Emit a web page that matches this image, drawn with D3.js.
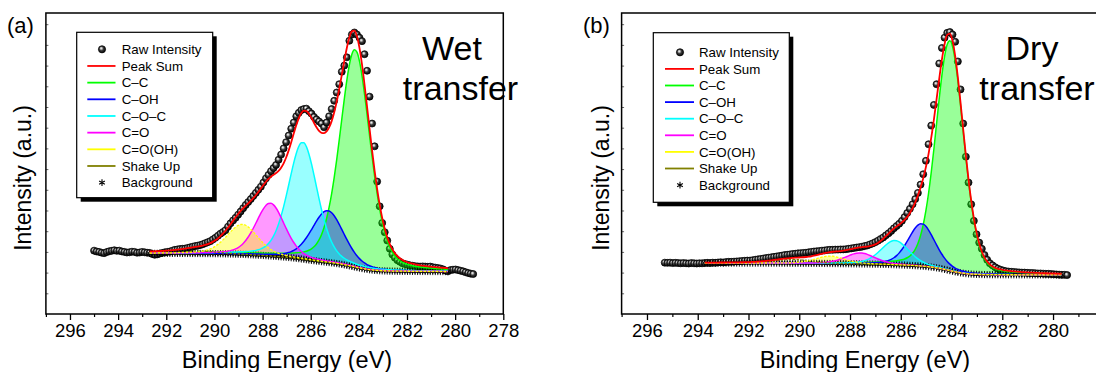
<!DOCTYPE html>
<html>
<head>
<meta charset="utf-8">
<script src="https://cdn.jsdelivr.net/npm/d3@7"></script>
<style>
  html, body { margin: 0; padding: 0; background: #fff; }
  svg { display: block; font-family: "Liberation Sans", Arial, sans-serif; }
</style>
</head>
<body>
<svg id="chart" width="1096" height="372"></svg>
<script>
// ---------- data ----------
// C 1s spectra: binding energy of the first point (eV) and the scan step
const rawStepEV = 0.105;
const rawStartA = 295.0;
const rawStartB = 295.3;

// raw intensity (a.u.), one value per step, high BE -> low BE
const rawIntensityA = [
  3.06,3.02,3.00,2.96,2.94,2.99,3.03,3.05,3.08,3.05,
  3.06,3.02,3.00,2.97,2.98,3.01,3.00,2.96,2.97,3.00,
  2.98,2.96,2.95,2.90,2.86,2.88,2.92,2.95,2.98,3.00,
  3.02,3.06,3.10,3.12,3.14,3.15,3.16,3.19,3.22,3.25,
  3.28,3.30,3.33,3.37,3.42,3.47,3.52,3.60,3.68,3.78,
  3.88,3.96,4.05,4.22,4.38,4.52,4.65,4.80,4.95,5.11,
  5.27,5.41,5.55,5.70,5.85,6.00,6.15,6.35,6.55,6.72,
  6.90,7.05,7.20,7.45,7.70,8.00,8.30,8.62,8.95,9.25,
  9.55,9.72,9.85,9.90,9.92,9.80,9.68,9.52,9.40,9.30,
  9.20,9.02,9.25,9.55,9.90,10.30,10.70,11.10,11.70,12.00,
  12.40,13.20,13.50,13.60,13.50,13.35,13.18,12.55,11.75,10.50,
  9.20,8.10,6.40,5.20,4.40,3.95,3.55,3.15,2.88,2.72,
  2.60,2.52,2.45,2.41,2.38,2.35,2.33,2.31,2.30,2.29,
  2.30,2.29,2.28,2.29,2.26,2.24,2.22,2.20,2.16,2.10,
  2.06,2.12,2.14,2.15,2.12,2.09,2.06,2.02,1.98,1.95,
  1.93
];
const rawIntensityB = [
  2.48,2.47,2.48,2.46,2.47,2.46,2.45,2.46,2.45,2.44,
  2.46,2.45,2.44,2.45,2.45,2.46,2.47,2.46,2.48,2.47,
  2.49,2.50,2.49,2.51,2.52,2.52,2.53,2.54,2.55,2.56,
  2.57,2.58,2.58,2.60,2.62,2.64,2.66,2.68,2.70,2.72,
  2.74,2.76,2.78,2.80,2.82,2.85,2.86,2.88,2.90,2.91,
  2.93,2.94,2.95,2.96,2.98,3.00,3.02,3.03,3.04,3.06,
  3.07,3.09,3.10,3.10,3.11,3.11,3.12,3.12,3.13,3.15,
  3.17,3.19,3.21,3.23,3.25,3.28,3.31,3.36,3.41,3.47,
  3.54,3.62,3.70,3.80,3.90,4.01,4.14,4.25,4.36,4.50,
  4.68,4.88,5.08,5.30,5.55,5.85,6.25,6.75,7.40,8.20,
  9.10,10.10,11.10,12.10,12.85,13.35,13.58,13.62,13.50,13.15,
  12.20,10.85,9.20,7.60,6.35,5.30,4.50,3.85,3.45,3.15,
  2.85,2.62,2.45,2.35,2.26,2.19,2.14,2.10,2.07,2.05,
  2.04,2.03,2.02,2.01,2.00,2.00,1.99,1.98,1.98,1.97,
  1.96,1.96,1.95,1.94,1.94,1.93,1.92,1.91,1.90,1.89,
  1.89,1.88
];

// fitted components: C–C, C–OH, C–O–C, C=O, C=O(OH), Shake Up
const componentLabels = ["C–C", "C–OH", "C–O–C", "C=O", "C=O(OH)", "Shake Up"];
const peakCenterA  = [284.16, 285.29, 286.33, 287.68, 288.84, 290.60];
const peakHeightA  = [10.50, 2.50, 5.65, 2.55, 1.45, 0.12];
const peakFwhmA    = [1.47, 1.58, 1.43, 1.42, 1.52, 1.68];
const peakLorentzA = [0.3, 0.3, 0.3, 0.3, 0.3, 0.3];
const fitWindowA = [280.3, 292.7];
const backgroundEndsA = [2.05, 2.93];   // low-BE end, high-BE end

const peakCenterB  = [284.07, 285.18, 286.23, 287.60, 288.79, 290.26];
const peakHeightB  = [11.10, 2.05, 1.17, 0.53, 0.36, 0.18];
const peakFwhmB    = [1.28, 1.26, 1.31, 1.36, 1.36, 1.68];
const peakLorentzB = [0.2, 0.3, 0.3, 0.3, 0.3, 0.3];
const fitWindowB = [279.56, 293.82];
const backgroundEndsB = [1.89, 2.46];

// axes
const energyDomain = [297, 278];
const energyTicksA = [296, 294, 292, 290, 288, 286, 284, 282, 280, 278];
const energyTicksB = [296, 294, 292, 290, 288, 286, 284, 282, 280];
const energyMinorTicks = [297, 295, 293, 291, 289, 287, 285, 283, 281, 279];
const intensityDomain = [0, 14.54];
const intensityTicks = [1, 2, 3, 4, 5, 6, 7, 8, 9, 10, 11, 12, 13, 14];

const legendLabels = ["Raw Intensity", "Peak Sum", "C–C", "C–OH", "C–O–C", "C=O", "C=O(OH)", "Shake Up", "Background"];
const panelTags = ["(a)", "(b)"];
const panelTitles = [["Wet", "transfer"], ["Dry", "transfer"]];

// ---------- styles ----------
const componentColors = ["#00ff00", "#0000ff", "#00ffff", "#ff00ff", "#ffff00", "#808000"];
const sumColor = "#ff0000";
const font = '"Liberation Sans", Arial, sans-serif';

// ---------- helpers ----------
function pseudoVoigt(e, c, h, w, eta) {
  const t = (e - c) / w;
  return h * ((1 - eta) * Math.exp(-4 * Math.LN2 * t * t) + eta / (1 + 4 * t * t));
}

const svg = d3.select("#chart");
const defs = svg.append("defs");
const ball = defs.append("radialGradient").attr("id", "ball")
  .attr("cx", "45%").attr("cy", "45%").attr("r", "58%").attr("fx", "38%").attr("fy", "34%");
ball.append("stop").attr("offset", "0%").attr("stop-color", "#ffffff");
ball.append("stop").attr("offset", "22%").attr("stop-color", "#bdbdbd");
ball.append("stop").attr("offset", "50%").attr("stop-color", "#3a3a3a");
ball.append("stop").attr("offset", "100%").attr("stop-color", "#000");

function drawPanel(cfg, idx) {
  const g = svg.append("g");
  const x = d3.scaleLinear().domain(energyDomain).range([cfg.left, cfg.right]);
  const y = d3.scaleLinear().domain(intensityDomain).range([314, 13]);

  const energies = cfg.raw.map((_, i) => cfg.start - i * rawStepEV);
  const rawPts = energies.map((e, i) => ({ e, v: cfg.raw[i] }));
  const fitE = energies.filter(e => e >= cfg.window[0] - 1e-6 && e <= cfg.window[1] + 1e-6);
  const comps = cfg.center.map((c, k) =>
    fitE.map(e => pseudoVoigt(e, c, cfg.height[k], cfg.fwhm[k], cfg.lorentz[k])));
  const total = fitE.map((e, i) => d3.sum(comps, c => c[i]));

  // Shirley-type background: step proportional to the peak area on the low-BE side
  const n = fitE.length;
  const cum = new Array(n).fill(0);
  for (let i = n - 2; i >= 0; i--) {
    cum[i] = cum[i + 1] + 0.5 * (total[i] + total[i + 1]) * (fitE[i] - fitE[i + 1]);
  }
  const bg = cum.map(c => cfg.bgEnds[0] + (cfg.bgEnds[1] - cfg.bgEnds[0]) * c / cum[0]);

  const clipId = "clip" + idx;
  defs.append("clipPath").attr("id", clipId).append("rect")
    .attr("x", cfg.left).attr("y", 13).attr("width", cfg.right - cfg.left).attr("height", 301);
  const plot = g.append("g").attr("clip-path", `url(#${clipId})`);

  // raw intensity points
  plot.append("g").selectAll("circle").data(rawPts).join("circle")
    .attr("cx", d => x(d.e)).attr("cy", d => y(d.v)).attr("r", 3.5)
    .attr("fill", "url(#ball)").attr("stroke", "#000").attr("stroke-width", 0.7);

  // component fills
  const idxs = d3.range(n);
  comps.forEach((c, k) => {
    if (k === 5) return;
    plot.append("path").datum(idxs)
      .attr("d", d3.area().x(i => x(fitE[i])).y0(i => y(bg[i])).y1(i => y(bg[i] + c[i])).curve(d3.curveMonotoneX))
      .attr("fill", componentColors[k]).attr("fill-opacity", 0.4).attr("stroke", "none");
  });
  // background markers
  const star = d3.symbol(d3.symbolAsterisk, 36)();
  plot.append("g").selectAll("path").data(idxs).join("path")
    .attr("d", star)
    .attr("transform", i => `translate(${x(fitE[i])},${y(bg[i])})`)
    .attr("fill", "none").attr("stroke", "#000").attr("stroke-width", 0.9);
  // component outlines (shake-up first so the yellow and olive trace the baseline)
  [0, 1, 2, 3, 5, 4].forEach(k => {
    const c = comps[k];
    plot.append("path").datum(idxs)
      .attr("d", d3.line().x(i => x(fitE[i])).y(i => y(bg[i] + c[i])).curve(d3.curveMonotoneX))
      .attr("fill", "none").attr("stroke", componentColors[k])
      .attr("stroke-width", k >= 4 ? 1.3 : 1.5)
      .attr("stroke-dasharray", k >= 4 ? "2.5,1.5" : null);
  });
  // peak sum
  plot.append("path").datum(idxs)
    .attr("d", d3.line().x(i => x(fitE[i])).y(i => y(bg[i] + total[i])).curve(d3.curveMonotoneX))
    .attr("fill", "none").attr("stroke", sumColor).attr("stroke-width", 1.8);

  // axes
  const xAxis = d3.axisBottom(x).tickValues(cfg.ticks).tickSize(6).tickPadding(4).tickFormat(d3.format("d"));
  const ax = g.append("g").attr("transform", "translate(0,314)").call(xAxis);
  ax.select(".domain").remove();
  ax.selectAll(".tick line").attr("stroke", "#000").attr("stroke-width", 1.3);
  ax.selectAll(".tick text").attr("font-family", font).attr("font-size", 18.5).attr("fill", "#000");
  g.append("g").attr("transform", "translate(0,314)")
    .call(d3.axisBottom(x).tickValues(energyMinorTicks).tickSize(3).tickFormat(""))
    .call(s => s.select(".domain").remove())
    .selectAll(".tick line").attr("stroke", "#000").attr("stroke-width", 1.2);
  g.append("g").attr("transform", `translate(${cfg.left},0)`)
    .call(d3.axisLeft(y).tickValues(intensityTicks).tickSize(-2.5).tickFormat(""))
    .call(s => s.select(".domain").remove())
    .selectAll(".tick line").attr("stroke", "#666").attr("stroke-width", 1);

  // frame
  g.append("rect").attr("x", cfg.left).attr("y", 13)
    .attr("width", cfg.right - cfg.left).attr("height", 301)
    .attr("fill", "none").attr("stroke", "#000").attr("stroke-width", 1.5);

  // axis titles
  g.append("text").attr("x", cfg.xTitleX).attr("y", 368)
    .attr("text-anchor", "middle").attr("font-size", 23.5).attr("fill", "#000")
    .text("Binding Energy (eV)");
  g.append("text")
    .attr("transform", `translate(${cfg.yTitleX},178) rotate(-90)`)
    .attr("text-anchor", "middle").attr("font-size", 23).attr("fill", "#000")
    .text("Intensity (a.u.)");

  // panel tag and title
  g.append("text").attr("x", cfg.tagX).attr("y", 33).attr("font-size", 22).attr("fill", "#000")
    .text(panelTags[idx]);
  g.append("text").attr("x", cfg.titleX).attr("y", 60).attr("text-anchor", "middle")
    .attr("font-size", 34).attr("fill", "#000").text(panelTitles[idx][0]);
  g.append("text").attr("x", cfg.titleX2).attr("y", 100).attr("text-anchor", "middle")
    .attr("font-size", 34).attr("fill", "#000").text(panelTitles[idx][1]);

  // legend
  const L = cfg.legend;
  const lg = g.append("g");
  lg.append("rect").attr("x", L.x + 4).attr("y", L.y + 4).attr("width", L.w).attr("height", L.h).attr("fill", "#000");
  lg.append("rect").attr("x", L.x).attr("y", L.y).attr("width", L.w).attr("height", L.h)
    .attr("fill", "#fff").attr("stroke", "#000").attr("stroke-width", 1.2);
  legendLabels.forEach((lab, r) => {
    const cy = L.row0 + r * L.dy;
    if (r === 0) {
      lg.append("circle").attr("cx", L.sym).attr("cy", cy).attr("r", 3.6)
        .attr("fill", "url(#ball)").attr("stroke", "#000").attr("stroke-width", 0.7);
    } else if (r === 8) {
      lg.append("path").attr("d", d3.symbol(d3.symbolAsterisk, 30)())
        .attr("transform", `translate(${L.sym},${cy})`)
        .attr("fill", "none").attr("stroke", "#000").attr("stroke-width", 1.1);
    } else {
      const col = r === 1 ? sumColor : componentColors[r - 2];
      lg.append("line").attr("x1", L.l0).attr("x2", L.l1).attr("y1", cy).attr("y2", cy)
        .attr("stroke", col).attr("stroke-width", 1.8);
    }
    lg.append("text").attr("x", L.tx).attr("y", cy + 4.6).attr("font-size", 13.3).attr("fill", "#000").text(lab);
  });
}

drawPanel({
  raw: rawIntensityA, start: rawStartA, ticks: energyTicksA,
  center: peakCenterA, height: peakHeightA, fwhm: peakFwhmA, lorentz: peakLorentzA,
  window: fitWindowA, bgEnds: backgroundEndsA,
  left: 45.9, right: 503.3, xTitleX: 287, yTitleX: 31, tagX: 7, titleX: 452, titleX2: 460.5,
  legend: { x: 76.7, y: 32.3, w: 136, h: 165.4, row0: 49.3, dy: 16.67, sym: 102, l0: 87.3, l1: 115.5, tx: 121.7 }
}, 0);

drawPanel({
  raw: rawIntensityB, start: rawStartB, ticks: energyTicksB,
  center: peakCenterB, height: peakHeightB, fwhm: peakFwhmB, lorentz: peakLorentzB,
  window: fitWindowB, bgEnds: backgroundEndsB,
  left: 621.6, right: 1103.8, xTitleX: 865, yTitleX: 609, tagX: 583, titleX: 1032, titleX2: 1037,
  legend: { x: 653.3, y: 32.7, w: 136, h: 169.6, row0: 52.3, dy: 16.6, sym: 680, l0: 665, l1: 694, tx: 699 }
}, 1);
</script>
</body>
</html>
